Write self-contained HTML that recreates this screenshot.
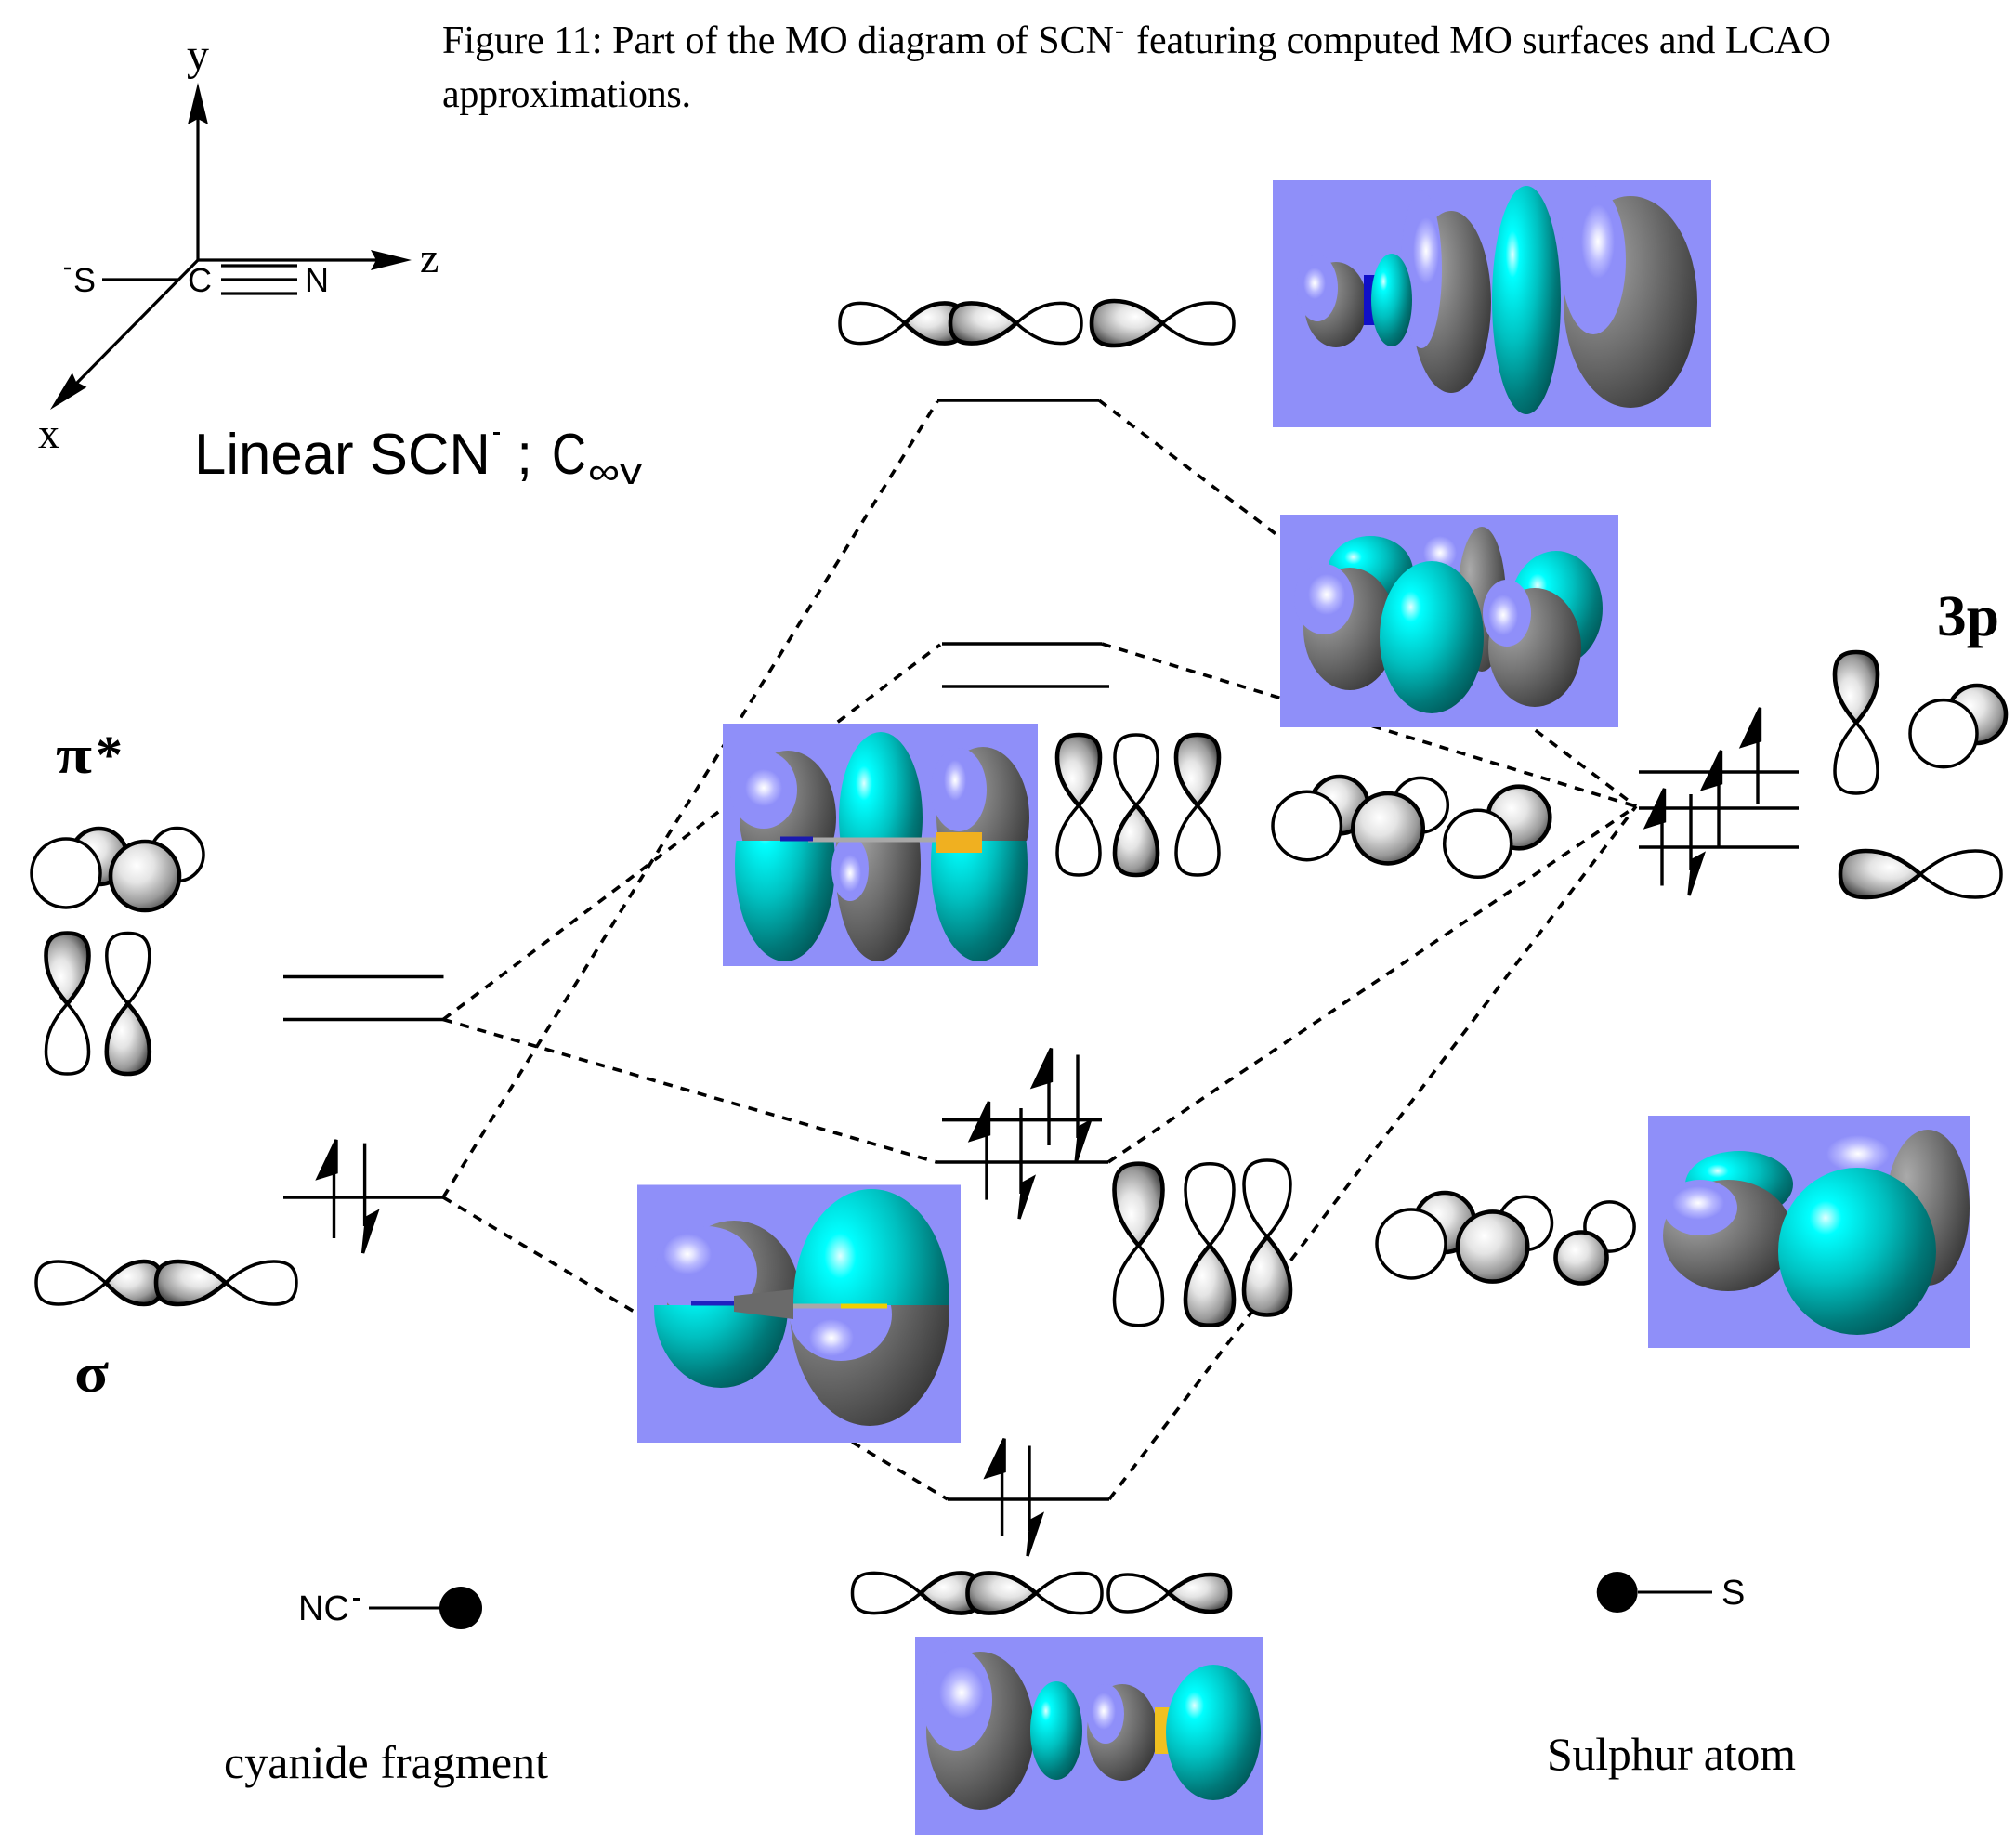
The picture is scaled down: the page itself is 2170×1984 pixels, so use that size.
<!DOCTYPE html>
<html><head><meta charset="utf-8"><style>
html,body{margin:0;padding:0;background:#fff;}
svg{display:block;}
.o{fill:#fff;stroke:#000;stroke-width:3.5}
.s{fill:url(#gs);stroke:#000;stroke-width:4.6}
.lv{stroke:#000;stroke-width:3.4;fill:none}
.d{stroke:#000;stroke-width:3.6;stroke-dasharray:10 9;fill:none}
.ar{stroke:#000;stroke-width:3.4}
.serif{font-family:"Liberation Serif","Times New Roman",serif;}
.sans{font-family:"Liberation Sans",Arial,sans-serif;}
</style></head><body>
<svg width="2170" height="1984" viewBox="0 0 2170 1984" xmlns="http://www.w3.org/2000/svg">
<defs>
<path id="lobe" d="M0,0 C0.25,-0.72 0.45,-1 0.68,-1 C0.9,-1 1,-0.7 1,0 C1,0.7 0.9,1 0.68,1 C0.45,1 0.25,0.72 0,0Z" vector-effect="non-scaling-stroke"/>
<radialGradient id="gs" cx="0.38" cy="0.35" r="0.72">
<stop offset="0" stop-color="#ffffff"/><stop offset="0.35" stop-color="#e4e4e4"/><stop offset="0.75" stop-color="#9a9a9a"/><stop offset="1" stop-color="#4a4a4a"/>
</radialGradient>
<radialGradient id="gy" cx="0.25" cy="0.3" r="0.9">
<stop offset="0" stop-color="#aaaaaa"/><stop offset="0.5" stop-color="#6e6e6e"/><stop offset="1" stop-color="#2f2f2f"/>
</radialGradient>
<radialGradient id="gc" cx="0.3" cy="0.3" r="0.85">
<stop offset="0" stop-color="#e0ffff"/><stop offset="0.12" stop-color="#00ffff"/><stop offset="0.45" stop-color="#00c0c0"/><stop offset="0.75" stop-color="#007878"/><stop offset="1" stop-color="#004d4d"/>
</radialGradient>
<radialGradient id="gl" cx="0.5" cy="0.5" r="0.5">
<stop offset="0" stop-color="#ffffff"/><stop offset="0.25" stop-color="#e4e4ff"/><stop offset="0.55" stop-color="#b9b9ff"/><stop offset="1" stop-color="#8f8ff9"/>
</radialGradient>
<clipPath id="cA"><rect x="1370" y="194" width="472" height="266"/></clipPath>
<clipPath id="cB"><rect x="1378" y="554" width="364" height="229"/></clipPath>
<clipPath id="cCt"><rect x="778" y="779" width="339" height="126"/></clipPath>
<clipPath id="cCb"><rect x="778" y="905" width="339" height="135"/></clipPath>
<clipPath id="cDt"><rect x="686" y="1275" width="348" height="130"/></clipPath>
<clipPath id="cDb"><rect x="686" y="1405" width="348" height="148"/></clipPath>
<clipPath id="cE"><rect x="1774" y="1201" width="346" height="250"/></clipPath>
<clipPath id="cF"><rect x="985" y="1762" width="375" height="213"/></clipPath>
</defs>

<!-- Caption -->
<g class="serif" font-size="42" fill="#000">
<text x="476" y="57" textLength="723" lengthAdjust="spacing">Figure 11: Part of the MO diagram of SCN</text>
<text x="1200" y="42" font-size="30">-</text>
<text x="1223" y="57" textLength="748" lengthAdjust="spacing">featuring computed MO surfaces and LCAO</text>
<text x="476" y="115" textLength="268" lengthAdjust="spacing">approximations.</text>
</g>

<!-- Axis diagram -->
<g stroke="#000" stroke-width="3.2" fill="none">
<line x1="213" y1="280" x2="213" y2="120"/>
<line x1="213" y1="280" x2="410" y2="280"/>
<line x1="213" y1="280" x2="80" y2="415"/>
<line x1="110" y1="301" x2="193" y2="301"/>
<line x1="238" y1="286" x2="320" y2="286"/>
<line x1="238" y1="301" x2="320" y2="301"/>
<line x1="238" y1="316" x2="320" y2="316"/>
<line x1="69" y1="289" x2="76" y2="289" stroke-width="2.5"/>
</g>
<polygon points="213,89 202,134 213,128 224,134" fill="#000"/>
<polygon points="443,280 399,269 405,280 399,291" fill="#000"/>
<polygon points="54,441 77.8,401.3 82,411 93.4,416.7" fill="#000"/>
<g class="serif" font-size="46" fill="#000">
<text x="213" y="75" text-anchor="middle" font-size="48">y</text>
<text x="452" y="293">z</text>
<text x="41" y="482">x</text>
</g>
<g class="sans" font-size="36" fill="#000">
<text x="79" y="314">S</text>
<text x="202" y="314">C</text>
<text x="328" y="314">N</text>
</g>
<g class="sans" fill="#000">
<text x="209" y="510" font-size="62" textLength="319" lengthAdjust="spacingAndGlyphs">Linear SCN</text>
<rect x="531" y="465" width="7" height="3"/>
<text x="556" y="510" font-size="62">;</text>
<text x="594" y="510" font-size="62" textLength="37" lengthAdjust="spacingAndGlyphs">C</text>
<text x="633" y="521" font-size="40" textLength="58" lengthAdjust="spacingAndGlyphs">∞v</text>
</g>

<!-- Labels -->
<g class="serif" font-weight="bold" fill="#000">
<text x="60" y="832" font-size="58" textLength="39" lengthAdjust="spacingAndGlyphs">π</text>
<text x="103" y="832" font-size="58">*</text>
<text x="80" y="1498" font-size="60" textLength="37" lengthAdjust="spacingAndGlyphs">σ</text>
<text x="2085" y="684" font-size="62" textLength="67" lengthAdjust="spacingAndGlyphs">3p</text>
</g>

<!-- Dashed correlation lines -->
<g class="d">
<line x1="477" y1="1097.5" x2="1012" y2="694"/>
<line x1="477" y1="1289" x2="1009" y2="432"/>
<line x1="477" y1="1097.5" x2="1008" y2="1251"/>
<line x1="477" y1="1289" x2="1020" y2="1614"/>
<line x1="1183" y1="431" x2="1761" y2="868"/>
<line x1="1186" y1="693" x2="1761" y2="868"/>
<line x1="1193" y1="1251" x2="1761" y2="868"/>
<line x1="1194" y1="1614" x2="1761" y2="868"/>
</g>

<!-- Energy levels -->
<g class="lv">
<line x1="305" y1="1051.5" x2="477.5" y2="1051.5"/>
<line x1="305" y1="1097.5" x2="477.5" y2="1097.5"/>
<line x1="305" y1="1289" x2="477.5" y2="1289"/>
<line x1="1009" y1="431" x2="1183" y2="431"/>
<line x1="1014" y1="693" x2="1186" y2="693"/>
<line x1="1014" y1="739" x2="1194" y2="739"/>
<line x1="1014" y1="1205.7" x2="1186" y2="1205.7"/>
<line x1="1008" y1="1251" x2="1193" y2="1251"/>
<line x1="1020" y1="1614" x2="1194" y2="1614"/>
<line x1="1764" y1="831" x2="1936" y2="831"/>
<line x1="1764" y1="870" x2="1936" y2="870"/>
<line x1="1764" y1="912" x2="1936" y2="912"/>
</g>

<!-- Electron arrows -->
<g class="ar" fill="#000">
<line x1="359.5" y1="1333" x2="359.5" y2="1250"/><polygon points="362,1227 342.5,1268 362,1262"/>
<line x1="392.6" y1="1230.6" x2="392.6" y2="1320"/><polygon points="390.6,1349 405.6,1305 394.6,1311"/>
<line x1="1062" y1="1291.6" x2="1062" y2="1210"/><polygon points="1064.5,1186 1045,1227 1064.5,1221"/>
<line x1="1099" y1="1193" x2="1099" y2="1285"/><polygon points="1097,1312 1112,1268 1101,1274"/>
<line x1="1129" y1="1233" x2="1129" y2="1150"/><polygon points="1131.5,1128.6 1112,1169.6 1131.5,1163.6"/>
<line x1="1160" y1="1135.5" x2="1160" y2="1225"/><polygon points="1158,1251.6 1173,1207.6 1162,1213.6"/>
<line x1="1078.6" y1="1653" x2="1078.6" y2="1570"/><polygon points="1081.1,1548.7 1061.6,1589.7 1081.1,1583.7"/>
<line x1="1108" y1="1556.5" x2="1108" y2="1648"/><polygon points="1106,1675 1121,1631 1110,1637"/>
<line x1="1789" y1="953.5" x2="1789" y2="870"/><polygon points="1791.5,849 1772,890 1791.5,884"/>
<line x1="1820" y1="855" x2="1820" y2="937"/><polygon points="1818,964 1833,920 1822,926"/>
<line x1="1850" y1="911" x2="1850" y2="830"/><polygon points="1852.5,808 1833,849 1852.5,843"/>
<line x1="1892" y1="866" x2="1892" y2="784"/><polygon points="1894.5,762 1875,803 1894.5,797"/>
</g>

<!-- Left fragment orbitals -->
<circle cx="106.5" cy="922" r="30" class="s"/>
<circle cx="190.5" cy="920" r="28.5" class="o"/>
<circle cx="71" cy="940" r="37" class="o"/>
<circle cx="156" cy="943" r="37" class="s"/>
<use href="#lobe" class="s" transform="translate(72.5,1080.5) rotate(-90) scale(76,23)"/>
<use href="#lobe" class="o" transform="translate(72.5,1080.5) rotate(90) scale(75.5,-23)"/>
<use href="#lobe" class="o" transform="translate(137.8,1080.5) rotate(-90) scale(76,23)"/>
<use href="#lobe" class="s" transform="translate(137.8,1080.5) rotate(90) scale(75.5,-23)"/>
<use href="#lobe" class="o" transform="translate(114,1381) scale(-75,23)"/>
<use href="#lobe" class="s" transform="translate(114,1381) scale(60,23)"/>
<use href="#lobe" class="s" transform="translate(243,1381) scale(-75,23)"/>
<use href="#lobe" class="o" transform="translate(243,1381) scale(76,23)"/>

<!-- Top sigma* LCAO -->
<use href="#lobe" class="o" transform="translate(974,348) scale(-70,21.6)"/>
<use href="#lobe" class="s" transform="translate(974,348) scale(63,21.6)"/>
<use href="#lobe" class="s" transform="translate(1094,348) scale(-71,21.6)"/>
<use href="#lobe" class="o" transform="translate(1094,348) scale(70,21.6)"/>
<use href="#lobe" class="s" transform="translate(1251,348) scale(-76,24)"/>
<use href="#lobe" class="o" transform="translate(1251,348) scale(77,22)"/>

<!-- pi* LCAO p orbitals -->
<use href="#lobe" class="s" transform="translate(1161,867) rotate(-90) scale(76,23)"/>
<use href="#lobe" class="o" transform="translate(1161,867) rotate(90) scale(75,-23)"/>
<use href="#lobe" class="o" transform="translate(1223,867) rotate(-90) scale(76,23)"/>
<use href="#lobe" class="s" transform="translate(1223,867) rotate(90) scale(75,-23)"/>
<use href="#lobe" class="s" transform="translate(1289,867) rotate(-90) scale(76,23)"/>
<use href="#lobe" class="o" transform="translate(1289,867) rotate(90) scale(75,-23)"/>

<!-- pi* circles -->
<circle cx="1441.7" cy="866.7" r="30.7" class="s"/>
<circle cx="1529" cy="866.7" r="29.3" class="o"/>
<circle cx="1406.7" cy="889" r="36.7" class="o"/>
<circle cx="1494" cy="891.7" r="37.7" class="s"/>
<circle cx="1635" cy="880" r="33.3" class="s"/>
<circle cx="1590.7" cy="908.3" r="36" class="o"/>

<!-- pi bonding p orbitals -->
<use href="#lobe" class="s" transform="translate(1225.5,1340.7) rotate(-90) scale(88,26)"/>
<use href="#lobe" class="o" transform="translate(1225.5,1340.7) rotate(90) scale(86,-26)"/>
<use href="#lobe" class="o" transform="translate(1302,1340.7) rotate(-90) scale(88,26)"/>
<use href="#lobe" class="s" transform="translate(1302,1340.7) rotate(90) scale(86,-26)"/>
<use href="#lobe" class="o" transform="translate(1364,1331.5) rotate(-90) scale(82.5,25)"/>
<use href="#lobe" class="s" transform="translate(1364,1331.5) rotate(90) scale(84,-25)"/>

<!-- pi bonding circles -->
<circle cx="1555" cy="1316" r="32" class="s"/>
<circle cx="1642" cy="1316.8" r="28.5" class="o"/>
<circle cx="1519" cy="1339" r="37" class="o"/>
<circle cx="1606.6" cy="1342" r="37.6" class="s"/>
<circle cx="1732.5" cy="1320.5" r="26.6" class="o"/>
<circle cx="1702" cy="1354" r="27.5" class="s"/>

<!-- lowest sigma LCAO -->
<use href="#lobe" class="o" transform="translate(991,1715) scale(-73.5,21.6)"/>
<use href="#lobe" class="s" transform="translate(991,1715) scale(64,21.6)"/>
<use href="#lobe" class="s" transform="translate(1115,1715) scale(-73.5,21.6)"/>
<use href="#lobe" class="o" transform="translate(1115,1715) scale(71,21.6)"/>
<use href="#lobe" class="o" transform="translate(1258,1715) scale(-65,20)"/>
<use href="#lobe" class="s" transform="translate(1258,1715) scale(66,20)"/>

<!-- 3p orbitals -->
<use href="#lobe" class="s" transform="translate(1998,778) rotate(-90) scale(76,23)"/>
<use href="#lobe" class="o" transform="translate(1998,778) rotate(90) scale(76,-23)"/>
<circle cx="2128" cy="769" r="31" class="s"/>
<circle cx="2092" cy="789.6" r="36" class="o"/>
<use href="#lobe" class="s" transform="translate(2067,941) scale(-86,25)"/>
<use href="#lobe" class="o" transform="translate(2067,941) scale(87,25)"/>

<!-- MO surface A (top right) -->
<rect x="1370" y="194" width="472" height="266" fill="#8f8ff9"/>
<g clip-path="url(#cA)">
<ellipse cx="1438" cy="328" rx="34" ry="46" fill="url(#gy)"/>
<ellipse cx="1418" cy="310" rx="22" ry="36" fill="#8f8ff9"/>
<ellipse cx="1415" cy="305" rx="12" ry="17" fill="url(#gl)"/>
<ellipse cx="1562" cy="325" rx="43" ry="98" fill="url(#gy)"/>
<ellipse cx="1530" cy="290" rx="22" ry="85" fill="#8f8ff9"/>
<ellipse cx="1535" cy="270" rx="14" ry="36" fill="url(#gl)"/>
<ellipse cx="1755" cy="325" rx="72" ry="114" fill="url(#gy)"/>
<ellipse cx="1715" cy="280" rx="35" ry="80" fill="#8f8ff9"/>
<ellipse cx="1720" cy="260" rx="18" ry="40" fill="url(#gl)"/>
<rect x="1468" y="296" width="12" height="54" fill="#1010c8"/>
<ellipse cx="1498" cy="323" rx="22" ry="50" fill="url(#gc)"/>
<ellipse cx="1643" cy="323" rx="37" ry="123" fill="url(#gc)"/>
</g>

<!-- MO surface B -->
<rect x="1378" y="554" width="364" height="229" fill="#8f8ff9"/>
<g clip-path="url(#cB)">
<ellipse cx="1475" cy="615" rx="46" ry="38" fill="url(#gc)"/>
<ellipse cx="1453" cy="677" rx="50" ry="66" fill="url(#gy)"/>
<ellipse cx="1425" cy="645" rx="32" ry="38" fill="#8f8ff9"/>
<ellipse cx="1428" cy="640" rx="20" ry="22" fill="url(#gl)"/>
<ellipse cx="1595" cy="645" rx="26" ry="78" fill="url(#gy)"/>
<ellipse cx="1550" cy="595" rx="18" ry="18" fill="url(#gl)"/>
<ellipse cx="1675" cy="655" rx="50" ry="62" fill="url(#gc)"/>
<ellipse cx="1541" cy="686" rx="56" ry="82" fill="url(#gc)"/>
<ellipse cx="1652" cy="697" rx="50" ry="64" fill="url(#gy)"/>
<ellipse cx="1622" cy="660" rx="26" ry="36" fill="#8f8ff9"/>
<ellipse cx="1618" cy="662" rx="16" ry="22" fill="url(#gl)"/>
</g>

<!-- MO surface C (pi*) -->
<rect x="778" y="779" width="339" height="261" fill="#8f8ff9"/>
<g clip-path="url(#cCt)">
<ellipse cx="848" cy="880" rx="52" ry="72" fill="url(#gy)"/>
<ellipse cx="822" cy="850" rx="36" ry="42" fill="#8f8ff9"/>
<ellipse cx="822" cy="848" rx="20" ry="20" fill="url(#gl)"/>
<ellipse cx="948" cy="880" rx="45" ry="92" fill="url(#gc)"/>
<ellipse cx="1058" cy="880" rx="50" ry="76" fill="url(#gy)"/>
<ellipse cx="1032" cy="850" rx="30" ry="45" fill="#8f8ff9"/>
<ellipse cx="1028" cy="840" rx="12" ry="22" fill="url(#gl)"/>
</g>
<g clip-path="url(#cCb)">
<ellipse cx="845" cy="930" rx="54" ry="105" fill="url(#gc)"/>
<ellipse cx="945" cy="930" rx="46" ry="105" fill="url(#gy)"/>
<ellipse cx="915" cy="935" rx="20" ry="35" fill="#8f8ff9"/>
<ellipse cx="915" cy="940" rx="12" ry="20" fill="url(#gl)"/>
<ellipse cx="1054" cy="930" rx="52" ry="105" fill="url(#gc)"/>
</g>
<line x1="870" y1="904" x2="1007" y2="904" stroke="#a8a8a8" stroke-width="5"/>
<line x1="840" y1="903" x2="875" y2="903" stroke="#1a1ab0" stroke-width="5"/>
<rect x="1007" y="896" width="50" height="22" fill="#f0b020"/>

<!-- MO surface D (sigma) -->
<rect x="686" y="1275.5" width="348" height="277.5" fill="#8f8ff9"/>
<g clip-path="url(#cDt)">
<ellipse cx="790" cy="1400" rx="72" ry="86" fill="url(#gy)"/>
<ellipse cx="760" cy="1370" rx="55" ry="50" fill="#8f8ff9"/>
<ellipse cx="740" cy="1350" rx="26" ry="22" fill="url(#gl)"/>
<ellipse cx="938" cy="1400" rx="84" ry="120" fill="url(#gc)"/>
</g>
<g clip-path="url(#cDb)">
<ellipse cx="776" cy="1408" rx="72" ry="86" fill="url(#gc)"/>
<ellipse cx="936" cy="1408" rx="86" ry="127" fill="url(#gy)"/>
<ellipse cx="905" cy="1415" rx="55" ry="50" fill="#8f8ff9"/>
<ellipse cx="895" cy="1440" rx="24" ry="20" fill="url(#gl)"/>
</g>
<polygon points="790,1395 854,1388 854,1420 790,1412" fill="#6a6a6a"/>
<line x1="854" y1="1406" x2="955" y2="1406" stroke="#a8a8a8" stroke-width="5"/>
<line x1="905" y1="1406" x2="955" y2="1406" stroke="#f0d000" stroke-width="5"/>
<line x1="744" y1="1403" x2="790" y2="1403" stroke="#2020c0" stroke-width="5"/>

<!-- MO surface E -->
<rect x="1774" y="1201" width="346" height="250" fill="#8f8ff9"/>
<g clip-path="url(#cE)">
<ellipse cx="2075" cy="1300" rx="45" ry="84" fill="url(#gy)"/>
<ellipse cx="2000" cy="1242" rx="34" ry="20" fill="url(#gl)"/>
<ellipse cx="1872" cy="1275" rx="58" ry="36" fill="url(#gc)"/>
<ellipse cx="1860" cy="1330" rx="70" ry="60" fill="url(#gy)"/>
<ellipse cx="1830" cy="1300" rx="40" ry="30" fill="#8f8ff9"/>
<ellipse cx="1828" cy="1295" rx="28" ry="18" fill="url(#gl)"/>
<ellipse cx="1999" cy="1347" rx="85" ry="90" fill="url(#gc)"/>
</g>

<!-- MO surface F (bottom) -->
<rect x="985" y="1762" width="375" height="213" fill="#8f8ff9"/>
<g clip-path="url(#cF)">
<ellipse cx="1055" cy="1863" rx="58" ry="85" fill="url(#gy)"/>
<ellipse cx="1030" cy="1830" rx="38" ry="55" fill="#8f8ff9"/>
<ellipse cx="1035" cy="1822" rx="24" ry="28" fill="url(#gl)"/>
<ellipse cx="1137" cy="1863" rx="28" ry="53" fill="url(#gc)"/>
<ellipse cx="1208" cy="1865" rx="38" ry="52" fill="url(#gy)"/>
<ellipse cx="1190" cy="1845" rx="20" ry="32" fill="#8f8ff9"/>
<ellipse cx="1188" cy="1842" rx="13" ry="20" fill="url(#gl)"/>
<rect x="1243" y="1838" width="17" height="50" fill="#f0c020"/>
<ellipse cx="1306" cy="1865" rx="51" ry="73" fill="url(#gc)"/>
</g>

<!-- Bottom fragment labels -->
<g class="sans" font-size="38" fill="#000">
<text x="321" y="1744">NC</text>
<text x="1853" y="1727">S</text>
</g>
<rect x="380" y="1720" width="8" height="3" fill="#000"/>
<line x1="397" y1="1731" x2="475" y2="1731" stroke="#000" stroke-width="3"/>
<circle cx="496" cy="1731" r="23" fill="#000"/>
<circle cx="1740.7" cy="1714" r="22" fill="#000"/>
<line x1="1763" y1="1714" x2="1843" y2="1714" stroke="#000" stroke-width="3"/>
<g class="serif" font-size="50" fill="#000">
<text x="241" y="1914" textLength="349" lengthAdjust="spacing">cyanide fragment</text>
<text x="1665" y="1905" textLength="268" lengthAdjust="spacing">Sulphur atom</text>
</g>
</svg>
</body></html>
